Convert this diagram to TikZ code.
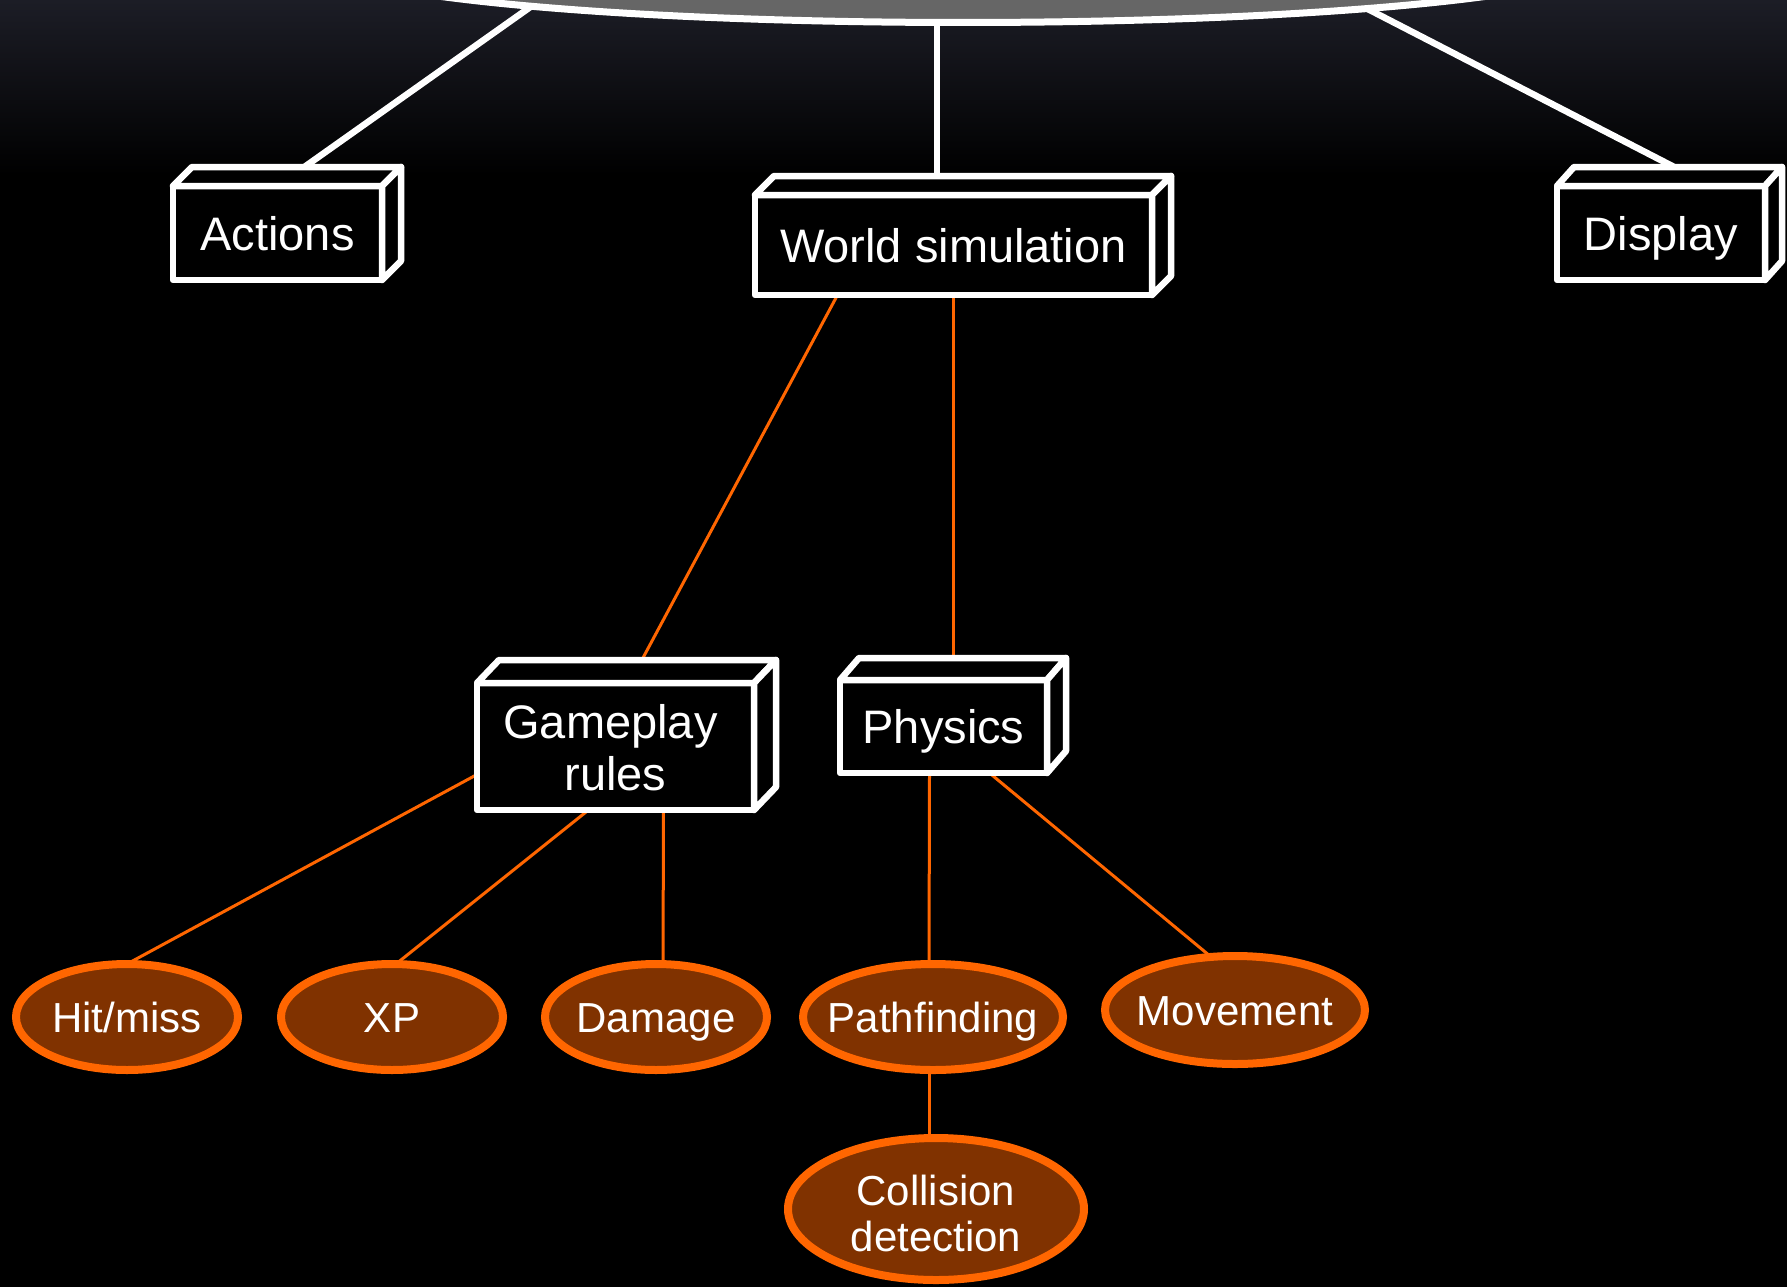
\documentclass[tikz,border=0pt]{standalone}
\usepackage{fontspec}
\setmainfont{Liberation Sans}
\usetikzlibrary{calc,shapes.geometric}
\pgfdeclarelayer{bg}
\pgfdeclarelayer{wires}
\pgfsetlayers{bg,wires,main}
\definecolor{orng}{RGB}{255,102,0}
\definecolor{brwn}{RGB}{128,50,0}
\definecolor{topbg}{RGB}{28,29,38}
\definecolor{ellgray}{RGB}{102,102,102}
\newcommand\cubefaces[3]{%
  \draw[cubeline] (#1.north west) -- ++(#2,#3) -- ($(#1.north east)+(#2,#3)$) -- (#1.north east) -- cycle;
  \draw[cubeline] (#1.north east) -- ++(#2,#3) -- ($(#1.south east)+(#2,#3)$) -- (#1.south east) -- cycle;}
\begin{document}
\begin{tikzpicture}[x=1pt,y=-1pt,
  box/.style={rectangle,draw=white,line width=6.5pt,fill=black,line join=round,text=white,
    inner sep=0pt,outer sep=0pt,align=center,font=\fontsize{47}{52}\selectfont,
    text height=34pt,text depth=0pt},
  cubeline/.style={draw=white,line width=6.5pt,fill=black,line join=round},
  oval/.style={ellipse,draw=orng,line width=8pt,fill=brwn,text=white,inner sep=0pt,
    outer sep=0pt,align=center,font=\fontsize{42}{46}\selectfont,
    text height=30pt,text depth=0pt},
  wire/.style={draw=white,line width=6.5pt},
  owire/.style={draw=orng,line width=3pt}]
\useasboundingbox (0,0) rectangle (1787,1287);
\begin{pgfonlayer}{bg}
  \fill[black] (0,0) rectangle (1787,1287);
  \shade[top color=topbg,bottom color=black] (0,0) rectangle (1787,175);
\end{pgfonlayer}
% top ellipse (mostly outside the picture)
\begin{scope}
  \clip (0,0) rectangle (1787,1287);
  \node[ellipse,draw=white,line width=7pt,fill=ellgray,inner sep=0pt,outer sep=0pt,
    minimum width=1293pt,minimum height=127pt] (game) at (963,-41) {};
\end{scope}
% boxes
\node[box,minimum width=209pt,minimum height=94pt] (actions) at (277.5,233) {Actions};
\cubefaces{actions}{19}{-19}
\node[box,minimum width=397pt,minimum height=100pt] (world) at (953.5,245) {World simulation};
\cubefaces{world}{19}{-19}
\node[box,minimum width=208pt,minimum height=94pt] (display) at (1661,233) {Display};
\cubefaces{display}{17}{-19}
\node[box,minimum width=277pt,minimum height=127pt,text height=87pt,text depth=0pt] (gameplay) at (615.5,746.5)
  {\hspace*{-10pt}Gameplay\\rules};
\cubefaces{gameplay}{22}{-23}
\node[box,minimum width=207pt,minimum height=93pt] (physics) at (943.5,726.5) {Physics};
\cubefaces{physics}{19}{-22}
% ellipses
\node[oval,minimum width=222pt,minimum height=106pt] (hitmiss) at (127,1017) {\makebox[0pt]{Hit/miss}};
\node[oval,minimum width=222pt,minimum height=106pt] (xp) at (392,1017) {\makebox[0pt]{XP}};
\node[oval,minimum width=222pt,minimum height=106pt] (damage) at (656,1017) {\makebox[0pt]{Damage}};
\node[oval,minimum width=260pt,minimum height=106pt] (pathfinding) at (933,1017) {\makebox[0pt]{Pathfinding}};
\node[oval,minimum width=260pt,minimum height=108pt] (movement) at (1235,1010) {\makebox[0pt]{Movement}};
\node[oval,minimum width=296pt,minimum height=142pt,text height=84pt,text depth=0pt] (collision) at (936,1209)
  {\makebox[0pt]{Collision}\\\makebox[0pt]{detection}};
% connectors
\begin{pgfonlayer}{wires}
  \draw[wire] ($(game.center)+(-427,44)$) -- (actions.north);
  \draw[wire] ($(game.south)+(-26,-5)$) -- ($(world.north)+(-16.5,0)$);
  \draw[wire] ($(game.center)+(397,46)$) -- ($(display.north)+(50,0)$);
  \draw[owire] ($(world.south)+(-116,0)$) -- ($(gameplay.north)+(14,0)$);
  \draw[owire] (world.south) -- (world.south |- physics.north);
  \draw[owire] ($(gameplay.west)+(0,28)$) -- (hitmiss.north);
  \draw[owire] ($(gameplay.south)+(-27,0)$) -- ($(xp.north)+(4,0)$);
  \draw[owire] ($(gameplay.south)+(48,0)$) -- ($(damage.north)+(7,0)$);
  \draw[owire] ($(physics.south)+(-14,0)$) -- ($(pathfinding.north)+(-4,0)$);
  \draw[owire] ($(physics.south)+(46,0)$) -- ($(movement.north)+(-25,0)$);
  \draw[owire] ($(pathfinding.south)+(-4,0)$) -- ($(collision.north)+(-7,0)$);
\end{pgfonlayer}
\end{tikzpicture}
\end{document}
